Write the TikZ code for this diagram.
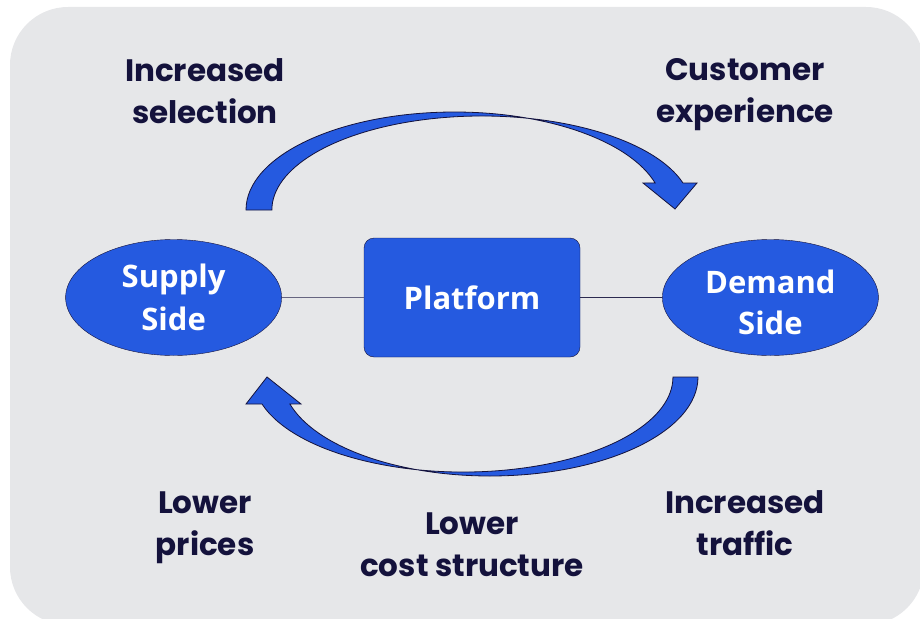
\documentclass[tikz,border=0pt]{standalone}
\usepackage{fontspec}
\setmainfont{Poppins}
\newfontfamily\seitenfont{Open Sans}
\usepackage{tikz}
\usetikzlibrary{shapes.geometric}
\usetikzlibrary{positioning}
\definecolor{grund}{HTML}{E6E7E9}
\definecolor{blau}{HTML}{255AE0}
\definecolor{tinte}{HTML}{14123C}
\tikzset{
  Etikett/.style={text=tinte, align=center, anchor=base, inner sep=0pt,
    font={\bfseries\fontsize{31}{42}\selectfont}}, % Beschriftungen, base = letzte Zeile
  Markt/.style={ellipse, draw=tinte, fill=blau, text=white, align=center,
    minimum width=216pt, minimum height=116pt, inner sep=0pt,
    font={\seitenfont\bfseries\fontsize{31}{43}\selectfont}}, % Angebot/Nachfrage
  Bogen/.style={fill=blau, draw=tinte, line width=.8pt, line join=miter} % gebogene Pfeile
}

\begin{document}
\begin{tikzpicture}[x=1pt, y=-1pt]
\useasboundingbox (0,0) rectangle (920,618);
\fill[grund, rounded corners=58pt] (10,7) rectangle (924,625);

%Bauteile
\node[Markt, rectangle, rounded corners=10pt, minimum width=216pt,
  minimum height=119pt] (P) at (472,297.5) {Platform};
\node[Markt, left=82pt of P] (S) {Supply\\Side};
\node[Markt, right=82pt of P] (D) {\rule{0pt}{33pt}Demand\\[-2pt]Side};

%Pfeile oben und unten
\path[Bogen] (246,210) arc[start angle=180, end angle=344, x radius=208.6, y radius=98]
  -- (643,183) -- (675,209) -- (697,183) -- (683,183)
  arc[start angle=343.3, end angle=180, x radius=210, y radius=94] -- cycle;
\path[Bogen] (698,377) arc[start angle=0, end angle=164.2, x radius=208, y radius=99]
  -- (301,404) -- (267,377) -- (246,404) -- (262,404)
  arc[start angle=163.5, end angle=0, x radius=209.8, y radius=95] -- cycle;

%Beschriftungen
\node[Etikett] (sel) at (205,123) {Increased\\selection};
\node[Etikett] (exp) at (745,122) {Customer\\experience};
\node[Etikett] (pre) at (205,555) {Lower\\prices};
\node[Etikett] (kos) at (472,576) {Lower\\cost structure};
\node[Etikett] (tra) at (745,555) {Increased\\traffic};

%Verbindungen
\draw[tinte!65, line width=1pt] (S.east) -- (P.west);
\draw[tinte!90, line width=1pt] (P.east) -- (D.west);

\end{tikzpicture}
\end{document}
